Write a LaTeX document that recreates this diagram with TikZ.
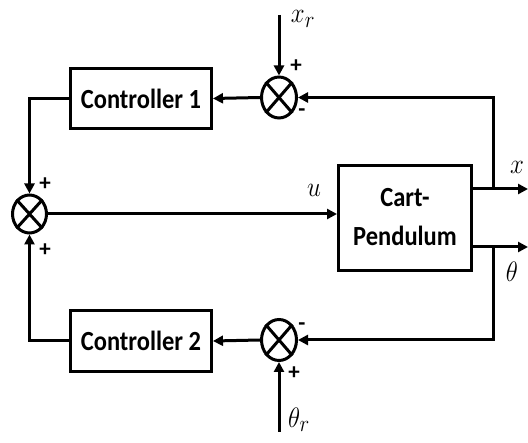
\documentclass[tikz,border=0pt]{standalone}
\usepackage{fontspec}
\setsansfont{Carlito}
\usepackage{graphicx}
\usetikzlibrary{arrows.meta,shapes.geometric}
\newcommand{\vst}[1]{\scalebox{1}[1.13]{#1}}
\begin{document}
\begin{tikzpicture}[x=1pt,y=-1pt,line width=3pt,
  blk/.style={draw,line width=3pt,inner sep=0pt,font=\sffamily\bfseries\fontsize{24.5}{35}\selectfont},
  sumnode/.style={draw,ellipse,line width=3pt,inner sep=0pt,minimum width=35pt,minimum height=41pt},
  arr/.style={-{Triangle[length=10pt,width=10pt]},line width=3pt},
  sgn/.style={font=\sffamily\bfseries\fontsize{23}{23}\selectfont,inner sep=0pt},
  lbl/.style={font=\fontsize{24.88}{25}\selectfont,inner sep=0pt}]
\useasboundingbox (0,0) rectangle (528,443);
% blocks
\node[blk,minimum width=141pt,minimum height=60pt] (C1) at (141,98.5) {\vst{Controller 1}};
\node[blk,minimum width=141pt,minimum height=61pt] (C2) at (141,341) {\vst{Controller 2}};
\node[blk,minimum width=133pt,minimum height=105pt] (Cart) at (405,218)
  {\vst{\begin{tabular}{@{}c@{}}Cart-\\Pendulum\end{tabular}}};
% summing junctions
\node[sumnode] (S1) at (279,97.5) {};
\node[sumnode] (S2) at (279,340) {};
\node[sumnode,minimum width=34pt,minimum height=38pt] (S3) at (29.5,214) {};
\foreach \s in {S1,S2,S3}{
  \draw[line width=3pt] (\s.north east) -- (\s.south west) (\s.north west) -- (\s.south east);
}
% coordinates
\coordinate (xr) at (279,15);
\coordinate (thr) at (279,432);
\coordinate (xo) at (528,189);
\coordinate (tho) at (528,247);
\coordinate (jx) at (493,189);
\coordinate (jt) at (493,247);
% connectors
\draw[arr] (xr) -- (S1.north);
\draw[arr] (S1.west) -- (C1.east);
\draw[arr] (C1.west) -| (S3.north);
\draw[arr] (C2.west) -| (S3.south);
\draw[arr] (S3.east) -- (S3.east -| Cart.west);
\draw[arr] (Cart.east |- xo) -- (xo);
\draw[arr] (Cart.east |- tho) -- (tho);
\draw[arr] (jx) |- (S1.east);
\draw[arr] (jt) |- (S2.east);
\draw[arr] (S2.west) -- (C2.east);
\draw[arr] (thr) -- (S2.south);
% labels
\node[lbl] (Lxr) at (303,19) {\vst{$x_r$}};
\node[lbl] (Lthr) at (299,420) {\vst{$\theta_r$}};
\node[lbl] (Lu) at (314,190) {\vst{$u$}};
\node[lbl] (Lx) at (517,167) {\vst{$x$}};
\node[lbl] (Lth) at (512,272) {\vst{$\theta$}};
% signs
\node[sgn] (p1) at (296,66) {+};
\node[sgn] (m1) at (302,113) {-};
\node[sgn] (m2) at (302,327) {-};
\node[sgn] (p2) at (294,373) {+};
\node[sgn] (p3) at (45,184) {+};
\node[sgn] (p4) at (45,250) {+};
\end{tikzpicture}
\end{document}
